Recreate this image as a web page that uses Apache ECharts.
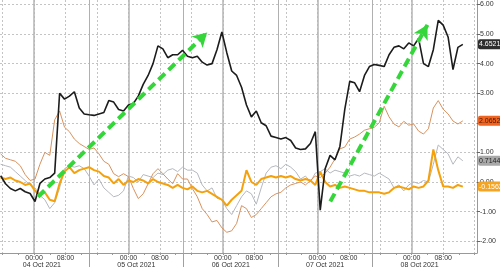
<!DOCTYPE html>
<html><head><meta charset="utf-8">
<script src="https://cdn.jsdelivr.net/npm/echarts@6/dist/echarts.min.js"></script>
<style>html,body{margin:0;padding:0;background:#fff}#c{width:500px;height:269px}</style>
</head><body><div id="c"></div>
<script>
// Time grid: hours relative to 04 Oct 2021 00:00, every 1.25h
const hours = [];
for (let i = 0; i < 95; i++) hours.push(-8.5 + 1.25 * i);

const blackSeries = [0.21,-0.06,-0.22,-0.3,-0.22,-0.33,-0.39,-0.66,-0.05,0.1,0.15,0.3,3.0,2.8,2.9,3.05,2.5,2.3,2.27,2.25,
 2.3,2.35,2.75,2.7,2.45,2.4,2.6,2.65,2.9,3.3,3.6,4.0,4.6,4.5,4.2,4.3,4.3,4.45,4.25,4.2,
 4.25,4.05,3.95,4.0,4.47,5.07,4.37,3.75,3.6,3.2,2.6,2.2,2.4,2.0,1.9,1.55,1.5,1.45,1.5,1.4,
 1.15,1.1,1.12,1.3,1.7,-0.95,0.45,0.9,0.75,1.2,2.46,3.4,3.35,3.05,3.6,3.9,3.97,3.94,3.9,4.3,
 4.55,4.6,4.5,4.7,4.6,4.85,4.0,3.9,4.47,5.46,5.3,4.9,3.8,4.55,4.6521];
const brownSeries = [0.95,0.8,0.75,0.7,0.55,0.25,0.05,0.1,0.6,1.0,0.9,2.1,2.4,1.85,1.7,1.45,1.3,1.2,1.1,1.15,
 0.95,0.7,0.6,0.28,0.18,0.28,0.18,-0.22,-0.56,-0.4,-0.06,0.28,0.45,0.28,0.1,-0.06,0.28,0.1,0.1,-0.22,
 -0.5,-0.9,-1.1,-1.35,-1.3,-1.55,-1.7,-1.65,-1.4,-0.8,-0.9,-1.2,-1.1,-0.9,-0.7,-0.5,-0.4,-0.35,-0.2,-0.1,
 -0.05,0.0,-0.1,0.05,0.2,0.15,0.3,0.5,0.78,1.12,1.18,1.45,1.52,1.62,1.75,1.8,1.85,2.0,2.56,2.2,
 1.96,1.86,2.05,1.92,1.96,1.72,1.62,1.8,2.5,2.75,2.46,2.3,2.06,1.96,2.0652];
const graySeries = [0.6,0.55,0.5,0.35,0.2,0.05,-0.1,-0.2,-0.45,-0.6,-0.9,-0.7,-0.2,0.45,0.55,0.5,0.55,0.45,0.2,-0.1,
 0.1,-0.2,-0.35,-0.5,-0.45,-0.3,0.2,0.15,0.0,0.25,0.2,0.15,0.3,0.25,0.4,0.45,0.35,0.5,0.4,0.4,
 0.3,-0.1,-0.3,-0.2,-0.55,-0.6,-0.9,-1.1,-0.8,-0.5,-0.3,-0.4,-0.75,-0.2,0.3,0.5,0.55,0.45,0.6,0.5,
 0.35,0.1,0.2,0.0,0.3,0.35,0.45,0.3,0.4,0.35,0.3,0.2,0.25,0.2,0.3,0.25,0.2,0.3,0.2,0.1,
 -0.2,-0.1,-0.3,-0.1,0.0,-0.05,0.05,0.0,0.6,1.25,1.1,0.95,0.6,0.85,0.7144];
const orangeSeries = [0.15,0.1,0.15,0.05,0.0,-0.1,-0.05,-0.3,-0.45,-0.35,-0.6,-0.65,-0.05,0.35,0.5,0.3,0.4,0.45,0.5,0.4,
 0.35,0.2,0.15,-0.05,0.1,-0.1,0.05,0.0,0.1,0.05,-0.05,0.1,0.0,-0.05,-0.1,-0.2,-0.1,-0.2,-0.25,-0.15,
 -0.3,-0.35,-0.3,-0.4,-0.5,-0.6,-0.8,-0.6,-0.45,-0.3,0.4,0.0,-0.1,0.1,0.15,0.2,0.15,0.2,0.15,0.2,
 0.1,0.05,0.1,0.05,-0.1,0.35,0.0,-0.15,-0.1,-0.2,-0.15,-0.2,-0.25,-0.3,-0.3,-0.35,-0.35,-0.35,-0.4,-0.35,
 -0.2,-0.15,-0.2,-0.25,-0.15,-0.2,-0.15,0.05,1.1,0.4,-0.15,-0.15,-0.2,-0.1,-0.1562];

const yTicks = [-2,-1,0,1,2,3,4,5,6];
const timeLabelHours = [0,8,24,32,48,56,72,80,96,104];
const gridHours = [-8,0,8,16,24,32,40,48,56,64,72,80,88,96,104,112];
const minorTickHours = [-8,-4,0,4,8,12,16,20,24,28,32,36,40,44,48,52,56,60,64,68,72,76,80,84,88,92,96,100,104,108,112];
const midnightHours = [0,24,48,72,96];
const separatorHours = [14,38,62,86];
const dateCenterHours = [2,26,50,74,98];
const dateLabels = ['04 Oct 2021','05 Oct 2021','06 Oct 2021','07 Oct 2021','08 Oct 2021'];
const arrows = [[[1,-0.5],[44,5.05]],[[75.3,-0.66],[100,5.31]]];

const X_MIN = -8.65, X_MAX = 112.6;
const FONT = 'Liberation Sans';

function pairs(v){ return v.map((y,i)=>[hours[i], y]); }
function hhmm(h){ const m = ((h % 24) + 24) % 24; return (m < 10 ? '0' : '') + m + ':00'; }
function endBox(val, bg, fg){
  return { symbol:'rect', symbolSize:0, silent:true,
    data:[{ coord:[X_MAX, val], value: val }],
    label:{ show:true, position:'right', distance:1, formatter: val.toFixed(4),
      backgroundColor:bg, color:fg, fontSize:7, fontFamily:FONT, padding:[2,1,1,1], borderRadius:2 } };
}
const baseX = { type:'value', min:X_MIN, max:X_MAX, position:'bottom' };
const chart = echarts.init(document.getElementById('c'), null, {renderer:'canvas'});
chart.setOption({
  backgroundColor:'#fff',
  animation:false,
  grid:{ left:0, right:23, top:0, bottom:14, containLabel:false },
  xAxis:[
    Object.assign({}, baseX, {
      axisLine:{ show:true, onZero:false, lineStyle:{ color:'#999', width:1 } },
      axisTick:{ show:true, customValues:minorTickHours, length:2, lineStyle:{ color:'#999' } },
      axisLabel:{ show:true, customValues:timeLabelHours, formatter:v=>hhmm(v), fontSize:7, fontFamily:FONT, color:'#333', margin:2 },
      splitLine:{ show:false } }),
    Object.assign({}, baseX, {
      axisLine:{ show:false, onZero:false }, axisTick:{ show:false, customValues:gridHours }, axisLabel:{ show:false },
      splitLine:{ show:true, lineStyle:{ color:'#c4c4c4', type:[2,2], width:1 } } }),
    Object.assign({}, baseX, {
      axisLine:{ show:false, onZero:false }, axisTick:{ show:false, customValues:midnightHours }, axisLabel:{ show:false },
      splitLine:{ show:true, lineStyle:{ color:'#b5b5b5', width:1.5 } } }),
    Object.assign({}, baseX, {
      axisLine:{ show:false, onZero:false },
      axisTick:{ show:true, customValues:separatorHours, length:14, lineStyle:{ color:'#a0a0a0' } },
      axisLabel:{ show:true, customValues:dateCenterHours, formatter:v=>dateLabels[dateCenterHours.indexOf(v)] || '',
        fontSize:7, fontFamily:FONT, color:'#333', margin:9 },
      splitLine:{ show:true, lineStyle:{ color:'#b0b0b0', width:1 } } })
  ],
  yAxis:{ type:'value', position:'right', min:-2.4, max:6.15,
    axisLine:{ show:true, onZero:false, lineStyle:{ color:'#999' } },
    axisTick:{ show:true, customValues:yTicks, length:3, lineStyle:{ color:'#666' } },
    axisLabel:{ show:true, customValues:yTicks, formatter:v=>v.toFixed(2), fontSize:7, fontFamily:FONT, color:'#333', margin:3 },
    splitLine:{ show:true, lineStyle:{ color:'#c4c4c4', type:[2,2], width:1 } } },
  series:[
    { name:'gray', type:'line', xAxisIndex:0, data:pairs(graySeries), symbol:'none', lineStyle:{ color:'#b4b8be', width:1 },
      markPoint:endBox(graySeries[graySeries.length-1], '#a8a8a8', '#222') },
    { name:'brown', type:'line', xAxisIndex:0, data:pairs(brownSeries), symbol:'none', lineStyle:{ color:'#d7925f', width:1 },
      markPoint:endBox(brownSeries[brownSeries.length-1], '#ee6420', '#4a1500') },
    { name:'orange', type:'line', xAxisIndex:0, data:pairs(orangeSeries), symbol:'none', lineStyle:{ color:'#f5a10c', width:2 },
      markPoint:endBox(orangeSeries[orangeSeries.length-1], '#f6a523', '#fff') },
    { name:'black', type:'line', xAxisIndex:0, data:pairs(blackSeries), symbol:'none', lineStyle:{ color:'#1c1c1c', width:1.6 },
      markPoint:endBox(blackSeries[blackSeries.length-1], '#2e2e2e', '#fff'),
      markLine:{ silent:true, symbol:['none','arrow'], symbolSize:[12,14], label:{ show:false },
        lineStyle:{ color:'#35d63a', width:4, type:[9,5] },
        data: arrows.map(a=>[{ coord:a[0] },{ coord:a[1] }]) } }
  ]
});
</script></body></html>
